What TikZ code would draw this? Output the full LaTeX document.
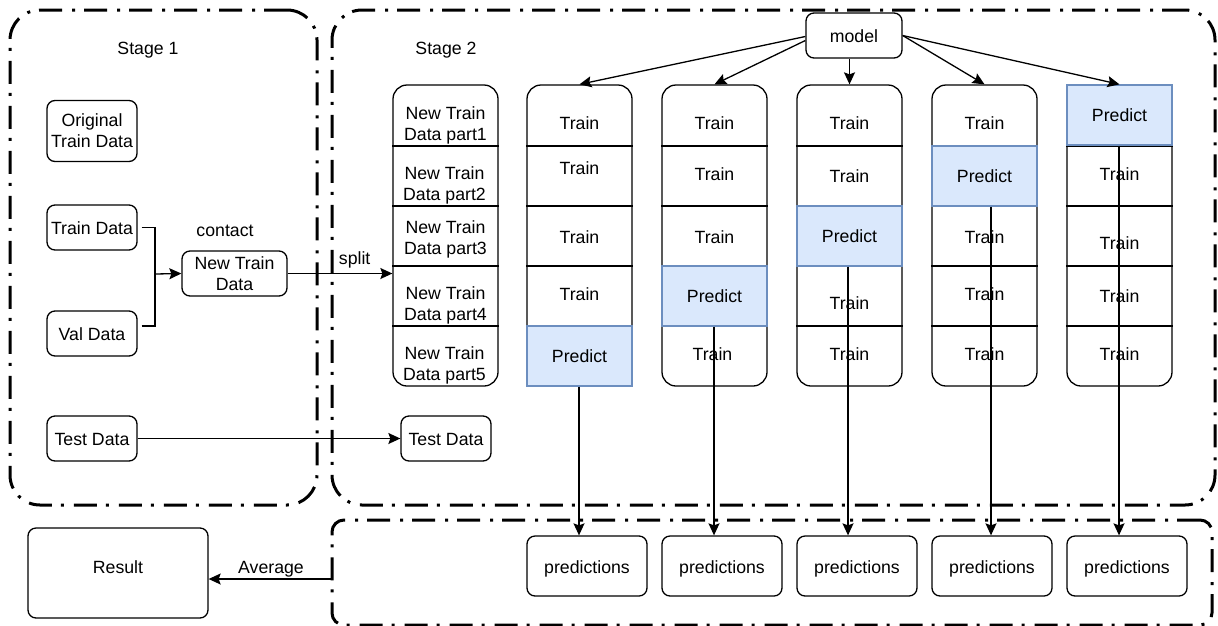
\documentclass[tikz,border=0pt]{standalone}
\usepackage{fontspec}
\setmainfont{Liberation Sans}
\usetikzlibrary{arrows.meta,calc}
\definecolor{predfill}{HTML}{DAE8FC}
\definecolor{predline}{HTML}{6C8EBF}

\tikzset{
  every node/.style={font=\fontsize{17.7pt}{21pt}\selectfont},
  stagebox/.style={draw, line width=3pt, rounded corners=30pt,
    dash pattern=on 23pt off 9pt on 3pt off 10pt, inner sep=0pt},
  databox/.style={draw, line width=1.3pt, rounded corners=8pt, align=center, inner sep=0pt},
  oneline/.style={text height=14.5pt, text depth=0pt},
  colbox/.style={draw, line width=1.3pt, rounded corners=14pt, inner sep=0pt,
    minimum width=105pt, minimum height=301pt},
  cellline/.style={line width=1.3pt},
  predcell/.style={draw=predline, fill=predfill, line width=1.3pt,
    minimum width=105pt, minimum height=60pt, inner sep=0pt},
  lbl/.style={inner sep=0pt, align=center},
  conn/.style={line width=1.3pt},
  arr/.style={line width=1.3pt, -{Stealth[length=12pt,width=11pt,inset=2pt]}},
}

\begin{document}
\begin{tikzpicture}[x=1pt,y=-1pt]
\useasboundingbox (0,0) rectangle (1218,625);

% ---------- dash-dot group frames ----------
\node[stagebox, minimum width=307pt, minimum height=495pt] (stage1) at (163.5,257.5) {};
\node[stagebox, minimum width=883pt, minimum height=495pt] (stage2) at (773.5,257.5) {};
\node[stagebox, rounded corners=12pt, minimum width=880pt, minimum height=105pt] (predgroup) at (772,572.5) {};

\node[lbl] (s1label) at (148,50) {Stage 1};
\node[lbl] (s2label) at (446,50) {Stage 2};

% ---------- stage 1 data ----------
\node[databox, minimum width=90pt, minimum height=61pt] (orig) at (92,131) {Original\\Train Data};
\node[databox, oneline, minimum width=90pt, minimum height=45pt] (train) at (92,227.5) {Train Data};
\node[databox, oneline, minimum width=90pt, minimum height=45pt] (val) at (92,333.5) {Val Data};
\node[databox, oneline, minimum width=90pt, minimum height=45pt] (testa) at (92,438.5) {Test Data};
\node[databox, minimum width=105pt, minimum height=45pt] (newtrain) at (234.5,273.5) {New Train\\Data};
\node[lbl] (contact) at (225,231) {contact};

\coordinate (join) at (155,274);
\draw[conn] ([xshift=4pt]train.east) -| (join);
\draw[conn] ([xshift=4pt,yshift=7.5pt]val.east) -| (join);
\draw[arr] (join) -- (newtrain.west);

% ---------- split parts ----------
\node[colbox] (parts) at (445.5,235.5) {};
\foreach \yy in {146,206,266,326}
  \draw[cellline] (parts.west |- 0,\yy) -- (parts.east |- 0,\yy);
\node[lbl] (part1) at (445.5,125) {New Train\\Data part1};
\node[lbl] (part2) at (444.5,185.5) {New Train\\Data part2};
\node[lbl] (part3) at (445.5,239) {New Train\\Data part3};
\node[lbl] (part4) at (445.5,305) {New Train\\Data part4};
\node[lbl] (part5) at (444.5,365) {New Train\\Data part5};

\draw[arr] (newtrain.east) -- (newtrain.east -| parts.west)
  node[lbl, pos=0.64, above=5pt] (splitlbl) {split};

\node[databox, oneline, minimum width=90pt, minimum height=45pt] (testb) at (446,438.5) {Test Data};
\draw[arr] (testa.east) -- (testb.west);

% ---------- model and folds ----------
\node[databox, oneline, minimum width=96pt, minimum height=45pt] (model) at (854,35.5) {model};

\node[colbox] (col1) at (579.5,235.5) {};
\node[colbox] (col2) at (714.5,235.5) {};
\node[colbox] (col3) at (849.5,235.5) {};
\node[colbox] (col4) at (984.5,235.5) {};
\node[colbox] (col5) at (1119.5,235.5) {};
\foreach \c in {col1,col2,col3,col4,col5}
  \foreach \yy in {146,206,266,326}
    \draw[cellline] (\c.west |- 0,\yy) -- (\c.east |- 0,\yy);

% held-out fold of each column
\node[predcell] (p1) at (579.5,356) {Predict};
\node[predcell] (p2) at (714.5,296) {Predict};
\node[predcell] (p3) at (849.5,236) {Predict};
\node[predcell] (p4) at (984.5,176) {Predict};
\node[predcell] (p5) at (1119.5,115) {Predict};

% training folds
\node[lbl] (t11) at (579.5,123) {Train};
\node[lbl] (t12) at (579.5,168) {Train};
\node[lbl] (t13) at (579.5,237) {Train};
\node[lbl] (t14) at (579.5,294) {Train};

\node[lbl] (t21) at (714.5,123) {Train};
\node[lbl] (t22) at (714.5,174) {Train};
\node[lbl] (t23) at (714.5,237) {Train};
\node[lbl] (t25) at (712.5,354) {Train};

\node[lbl] (t31) at (849.5,123) {Train};
\node[lbl] (t32) at (849.5,176) {Train};
\node[lbl] (t34) at (849.5,303) {Train};
\node[lbl] (t35) at (849.5,354) {Train};

\node[lbl] (t41) at (984.5,123) {Train};
\node[lbl] (t43) at (984.5,237) {Train};
\node[lbl] (t44) at (984.5,294) {Train};
\node[lbl] (t45) at (984.5,354) {Train};

\node[lbl] (t52) at (1119.5,174) {Train};
\node[lbl] (t53) at (1119.5,243) {Train};
\node[lbl] (t54) at (1119.5,296) {Train};
\node[lbl] (t55) at (1119.5,354) {Train};

% model feeds every fold column
\draw[arr] ([yshift=-1pt]model.west) -- (col1.north);
\draw[arr] ([yshift=-5pt]model.west) -- (col2.north);
\draw[arr] (col3.north |- model.south) -- (col3.north);
\draw[arr] (model.east) -- (col4.north);
\draw[arr] (model.east) -- (col5.north);

% ---------- predictions ----------
\node[databox, oneline, minimum width=120pt, minimum height=60pt] (pr1) at (587,566) {predictions};
\node[databox, oneline, minimum width=120pt, minimum height=60pt] (pr2) at (722,566) {predictions};
\node[databox, oneline, minimum width=120pt, minimum height=60pt] (pr3) at (857,566) {predictions};
\node[databox, oneline, minimum width=120pt, minimum height=60pt] (pr4) at (992,566) {predictions};
\node[databox, oneline, minimum width=120pt, minimum height=60pt] (pr5) at (1127,566) {predictions};

\draw[arr] ([xshift=-0.5pt]p1.south) -- ([xshift=-0.5pt]p1.south |- pr1.north);
\draw[arr] ([xshift=-0.5pt]p2.south) -- ([xshift=-0.5pt]p2.south |- pr2.north);
\draw[arr] ([xshift=-1.5pt]p3.south) -- ([xshift=-1.5pt]p3.south |- pr3.north);
\draw[arr] ([xshift=6.5pt]p4.south) -- ([xshift=6.5pt]p4.south |- pr4.north);
\draw[arr] ([xshift=-0.5pt]p5.south) -- ([xshift=-0.5pt]p5.south |- pr5.north);

% ---------- result ----------
\node[databox, text height=12.7pt, text depth=12pt, minimum width=180pt, minimum height=90pt] (result) at (118,573) {Result};
\draw[arr] (predgroup.west |- 0,579) -- (result.east |- 0,579);
\node[lbl] (avg) at (271,569) {Average};

\end{tikzpicture}
\end{document}
